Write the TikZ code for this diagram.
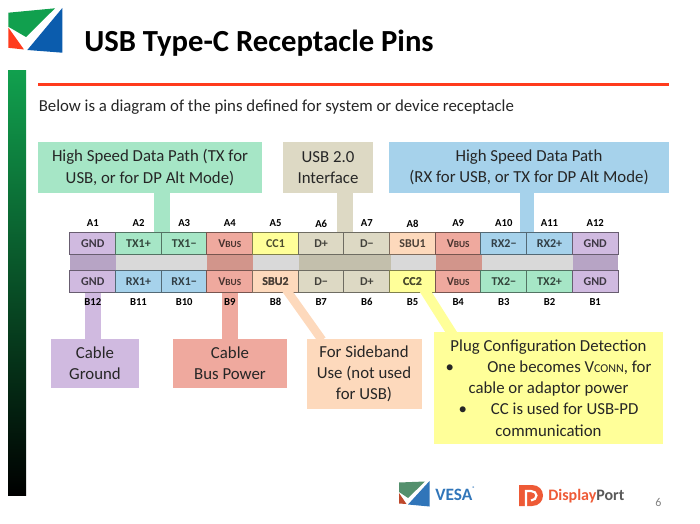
\documentclass[tikz,border=0pt]{standalone}
\usepackage{fontspec}
\setmainfont{Carlito}
\definecolor{vesagreen}{HTML}{11A04E}
\definecolor{vesared}{HTML}{FF3B1D}
\definecolor{vesablue}{HTML}{0B5CAD}
\definecolor{gndfill}{HTML}{D0BAE0}
\definecolor{txfill}{HTML}{A6E6C6}
\definecolor{rxfill}{HTML}{A6D2EB}
\definecolor{busfill}{HTML}{EFA99E}
\definecolor{ccfill}{HTML}{FFFF99}
\definecolor{usbfill}{HTML}{DDD9C4}
\definecolor{sbufill}{HTML}{FDD9BC}
\definecolor{dpred}{HTML}{EE5A36}
\tikzset{
  pin/.style={draw, line width=0.75pt, minimum width=34.25pt, minimum height=16.5pt, inner sep=0pt, font=\bfseries\fontsize{9}{9}\selectfont},
  pinname/.style={inner sep=0pt, font=\bfseries\fontsize{8}{8}\selectfont},
  callout/.style={inner sep=0pt, align=center, text=black!85, font=\fontsize{12.6}{15.9}\selectfont},
}
\newcommand{\vbus}{V\textsc{\fontsize{7}{7}\selectfont BUS}}
\begin{document}
\begin{tikzpicture}[x=0.75pt, y=-0.75pt]
\useasboundingbox (0, 0) rectangle (700, 524);
% logo
\fill [vesagreen] (8.3, 12.7) -- (55, 8.3) -- (26, 37) -- (8.3, 26.7) -- cycle;
\fill [vesared] (8.3, 27.5) -- (24, 49.5) -- (8.3, 47.8) -- cycle;
\fill [vesablue] (62.3, 8) -- (62.3, 52.7) -- (27.3, 50) -- cycle;
\node (title) [anchor=base west, inner sep=0pt, font=\bfseries\fontsize{23}{23}\selectfont] at (84, 52) {USB Type-C Receptacle Pins};
\shade [top color=vesagreen, bottom color=black] (8, 71) rectangle (26, 495);
\fill [vesared] (38, 83) rectangle (669, 86);
\node (intro) [anchor=base west, inner sep=0pt, text=black!85, font=\fontsize{12.6}{15}\selectfont] at (38.5, 112) {Below is a diagram of the pins defined for system or device receptacle};
% callouts
\node (txpath) [callout, fill=txfill, minimum width=168pt, minimum height=38.25pt] at (150, 167.5) {High Speed Data Path (TX for\\USB, or for DP Alt Mode)};
\node (usbtwo) [callout, fill=usbfill, minimum width=67.5pt, minimum height=38.25pt] at (328, 167.5) {USB 2.0\\Interface};
\node (rxpath) [callout, fill=rxfill, minimum width=210pt, minimum height=38.25pt] at (529, 167.5) {High Speed Data Path\\(RX for USB, or TX for DP Alt Mode)};
\node (ground) [callout, fill=gndfill, minimum width=66pt, minimum height=36.75pt] at (95, 363.5) {Cable\\Ground};
\node (power) [callout, fill=busfill, minimum width=85.5pt, minimum height=36.75pt] at (230, 363.5) {Cable\\Bus Power};
\node (sideband) [callout, fill=sbufill, minimum width=86.25pt, minimum height=52pt] at (364, 374) {For Sideband\\Use (not used\\for USB)};
\node (plug) [callout, fill=ccfill, minimum width=171.75pt, minimum height=84pt] at (548.5, 388) {Plug Configuration Detection\\\textbullet\hspace{25pt}One becomes V\textsc{\fontsize{9}{9}\selectfont CONN}, for\\cable or adaptor power\\\textbullet\hspace{18pt}CC is used for USB-PD\\communication};
% middle row
\fill [gndfill!88!black] (70, 255) rectangle (115.7, 270);
\fill [black!15] (115.7, 255) rectangle (207, 270);
\fill [busfill!88!black] (207, 255) rectangle (252.7, 270);
\fill [black!15] (252.7, 255) rectangle (298.8, 270);
\fill [usbfill!88!black] (298.8, 255) rectangle (390.5, 270);
\fill [black!15] (390.5, 255) rectangle (436, 270);
\fill [busfill!88!black] (436, 255) rectangle (481.7, 270);
\fill [black!15] (481.7, 255) rectangle (572.7, 270);
\fill [gndfill!88!black] (572.7, 255) rectangle (618.3, 270);
% pins
\node (a1) [pin, fill=gndfill, draw=gndfill!50!black, text=gndfill!30!black] at (92.8, 244) {GND};
\node (a2) [pin, fill=txfill, draw=txfill!50!black, text=txfill!30!black] at (138.5, 244) {TX1+};
\node (a3) [pin, fill=txfill, draw=txfill!50!black, text=txfill!30!black] at (184.2, 244) {TX1−};
\node (a4) [pin, fill=busfill, draw=busfill!50!black, text=busfill!30!black] at (229.8, 244) {\vbus};
\node (a5) [pin, fill=ccfill, draw=ccfill!50!black, text=ccfill!30!black] at (275.5, 244) {CC1};
\node (a6) [pin, fill=usbfill, draw=usbfill!50!black, text=usbfill!30!black] at (321.2, 244) {D+};
\node (a7) [pin, fill=usbfill, draw=usbfill!50!black, text=usbfill!30!black] at (366.8, 244) {D−};
\node (a8) [pin, fill=sbufill, draw=sbufill!50!black, text=sbufill!30!black] at (412.5, 244) {SBU1};
\node (a9) [pin, fill=busfill, draw=busfill!50!black, text=busfill!30!black] at (458.2, 244) {\vbus};
\node (a10) [pin, fill=rxfill, draw=rxfill!50!black, text=rxfill!30!black] at (503.8, 244) {RX2−};
\node (a11) [pin, fill=rxfill, draw=rxfill!50!black, text=rxfill!30!black] at (549.5, 244) {RX2+};
\node (a12) [pin, fill=gndfill, draw=gndfill!50!black, text=gndfill!30!black] at (595.2, 244) {GND};
\node (b12) [pin, fill=gndfill, draw=gndfill!50!black, text=gndfill!30!black] at (92.8, 281.5) {GND};
\node (b11) [pin, fill=rxfill, draw=rxfill!50!black, text=rxfill!30!black] at (138.5, 281.5) {RX1+};
\node (b10) [pin, fill=rxfill, draw=rxfill!50!black, text=rxfill!30!black] at (184.2, 281.5) {RX1−};
\node (b9) [pin, fill=busfill, draw=busfill!50!black, text=busfill!30!black] at (229.8, 281.5) {\vbus};
\node (b8) [pin, fill=sbufill, draw=sbufill!50!black, text=sbufill!30!black] at (275.5, 281.5) {SBU2};
\node (b7) [pin, fill=usbfill, draw=usbfill!50!black, text=usbfill!30!black] at (321.2, 281.5) {D−};
\node (b6) [pin, fill=usbfill, draw=usbfill!50!black, text=usbfill!30!black] at (366.8, 281.5) {D+};
\node (b5) [pin, fill=ccfill, draw=ccfill!50!black, text=ccfill!30!black] at (412.5, 281.5) {CC2};
\node (b4) [pin, fill=busfill, draw=busfill!50!black, text=busfill!30!black] at (458.2, 281.5) {\vbus};
\node (b3) [pin, fill=txfill, draw=txfill!50!black, text=txfill!30!black] at (503.8, 281.5) {TX2−};
\node (b2) [pin, fill=txfill, draw=txfill!50!black, text=txfill!30!black] at (549.5, 281.5) {TX2+};
\node (b1) [pin, fill=gndfill, draw=gndfill!50!black, text=gndfill!30!black] at (595.2, 281.5) {GND};
% connectors
\draw [txfill, line width=12pt] (txpath.south -| a2.north east) -- (a2.north east);
\draw [usbfill, line width=12pt] (usbtwo.south -| a6.north east) -- (a6.north east);
\draw [rxfill, line width=11pt] (rxpath.south -| a10.north east) -- (a10.north east);
\draw [gndfill, line width=12pt] (b12.south) -- (ground.north -| b12.south);
\draw [busfill, line width=12pt] (b9.south) -- (power.north -| b9.south);
\coordinate (sbustart) at (285, 288);
\coordinate (sbuend) at (322, 340);
\coordinate (ccstart) at (422, 286);
\coordinate (ccend) at (453, 335);
\draw [sbufill, line width=6.5pt] (sbustart) -- (sbuend);
\draw [ccfill, line width=7.5pt] (ccstart) -- (ccend);
\node (b8t) [pinname, font=\bfseries\fontsize{9}{9}\selectfont, text=sbufill!30!black] at (275.5, 281.5) {SBU2};
\node (b5t) [pinname, font=\bfseries\fontsize{9}{9}\selectfont, text=ccfill!30!black] at (412.5, 281.5) {CC2};
% pin names
\node (na1) [pinname] at (92.8, 223.5) {A1};
\node (na2) [pinname] at (138.5, 223.5) {A2};
\node (na3) [pinname] at (184.2, 223.5) {A3};
\node (na4) [pinname] at (229.8, 223.5) {A4};
\node (na5) [pinname] at (275.5, 223.5) {A5};
\node (na6) [pinname] at (321.2, 223.5) {A6};
\node (na7) [pinname] at (366.8, 223.5) {A7};
\node (na8) [pinname] at (412.5, 223.5) {A8};
\node (na9) [pinname] at (458.2, 223.5) {A9};
\node (na10) [pinname] at (503.8, 223.5) {A10};
\node (na11) [pinname] at (549.5, 223.5) {A11};
\node (na12) [pinname] at (595.2, 223.5) {A12};
\node (nb12) [pinname] at (92.8, 302) {B12};
\node (nb11) [pinname] at (138.5, 302) {B11};
\node (nb10) [pinname] at (184.2, 302) {B10};
\node (nb9) [pinname] at (229.8, 302) {B9};
\node (nb8) [pinname] at (275.5, 302) {B8};
\node (nb7) [pinname] at (321.2, 302) {B7};
\node (nb6) [pinname] at (366.8, 302) {B6};
\node (nb5) [pinname] at (412.5, 302) {B5};
\node (nb4) [pinname] at (458.2, 302) {B4};
\node (nb3) [pinname] at (503.8, 302) {B3};
\node (nb2) [pinname] at (549.5, 302) {B2};
\node (nb1) [pinname] at (595.2, 302) {B1};
% footer
\fill [vesagreen!60!black!70!white] (399, 482.5) -- (425, 481.5) -- (408, 498) -- (399, 492) -- cycle;
\fill [dpred!80!black] (399, 493) -- (406.5, 504) -- (399, 503.5) -- cycle;
\fill [vesablue!85!white] (429.5, 481) -- (429.5, 506.5) -- (408, 504.5) -- cycle;
\node (vesa) [anchor=west, inner sep=0pt, text=vesablue!85!white, font=\bfseries\fontsize{13}{13}\selectfont] at (435, 494) {VESA\raisebox{1.2ex}{\fontsize{4}{4}\selectfont ®}};
\fill [dpred] (519, 485) -- (532, 485) .. controls (539, 485) and (543, 490) .. (543, 495.5) .. controls (543, 501) and (539, 506) .. (532, 506) -- (519, 506) -- cycle;
\draw [white, line width=1.6pt] (526, 507) -- (526, 491) -- (531, 491) .. controls (534, 491) and (536.5, 493) .. (536.5, 495.5) .. controls (536.5, 498) and (534, 500.5) .. (531, 500.5);
\node (dport) [anchor=west, inner sep=0pt, font=\bfseries\fontsize{12}{12}\selectfont] at (548, 496.5) {\textcolor{dpred}{Display}\textcolor{black!65}{Port}};
\node (page) [inner sep=0pt, text=black!50, font=\fontsize{9}{9}\selectfont] at (658.5, 502.5) {6};
\end{tikzpicture}
\end{document}
